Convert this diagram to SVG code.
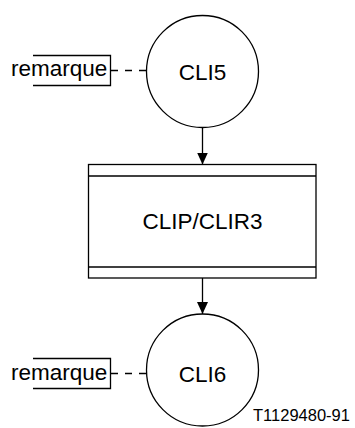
<svg xmlns="http://www.w3.org/2000/svg" width="355" height="428" viewBox="0 0 355 428">
<style>
.s{fill:none;stroke:#000;stroke-width:1.3}
.d{fill:none;stroke:#000;stroke-width:1.3;stroke-dasharray:7,7}
.t{font-family:"Liberation Sans",Arial,sans-serif;fill:#000}
</style>
<defs>
<marker id="ah" markerWidth="12" markerHeight="12" refX="12" refY="5.5" orient="auto" markerUnits="userSpaceOnUse">
<path d="M0,0 L12,5.5 L0,11 Z" fill="#000"/>
</marker>
</defs>
<rect width="355" height="428" fill="#fff"/>
<g id="connectors">
<line class="s" x1="202.5" y1="127" x2="202.5" y2="164.5" marker-end="url(#ah)"/>
<line class="s" x1="202.5" y1="278" x2="202.5" y2="314" marker-end="url(#ah)"/>
<line class="d" x1="111" y1="70.5" x2="146.5" y2="70.5"/>
<line class="d" x1="111" y1="373.5" x2="146.5" y2="373.5"/>
</g>
<g id="note1">
<path class="s" d="M33,55.5 H110.5 V85.5 H33"/>
<text class="t" x="11" y="76" font-size="22.5">remarque</text>
</g>
<g id="cli5">
<circle class="s" cx="202.5" cy="71.5" r="56"/>
<text class="t" x="202.5" y="80" font-size="22.5" text-anchor="middle">CLI5</text>
</g>
<g id="clip">
<rect class="s" x="88.5" y="164.5" width="227.5" height="113.5"/>
<line class="s" x1="88.5" y1="176" x2="316" y2="176"/>
<line class="s" x1="88.5" y1="267" x2="316" y2="267"/>
<text class="t" x="202.5" y="228.5" font-size="22.5" text-anchor="middle">CLIP/CLIR3</text>
</g>
<g id="note2">
<path class="s" d="M33,358.5 H110.5 V388.5 H33"/>
<text class="t" x="11" y="380" font-size="22.5">remarque</text>
</g>
<g id="cli6">
<circle class="s" cx="202.5" cy="370" r="56"/>
<text class="t" x="202.5" y="382" font-size="22.5" text-anchor="middle">CLI6</text>
</g>
<text class="t" x="253" y="421" font-size="16.5">T1129480-91</text>
</svg>
